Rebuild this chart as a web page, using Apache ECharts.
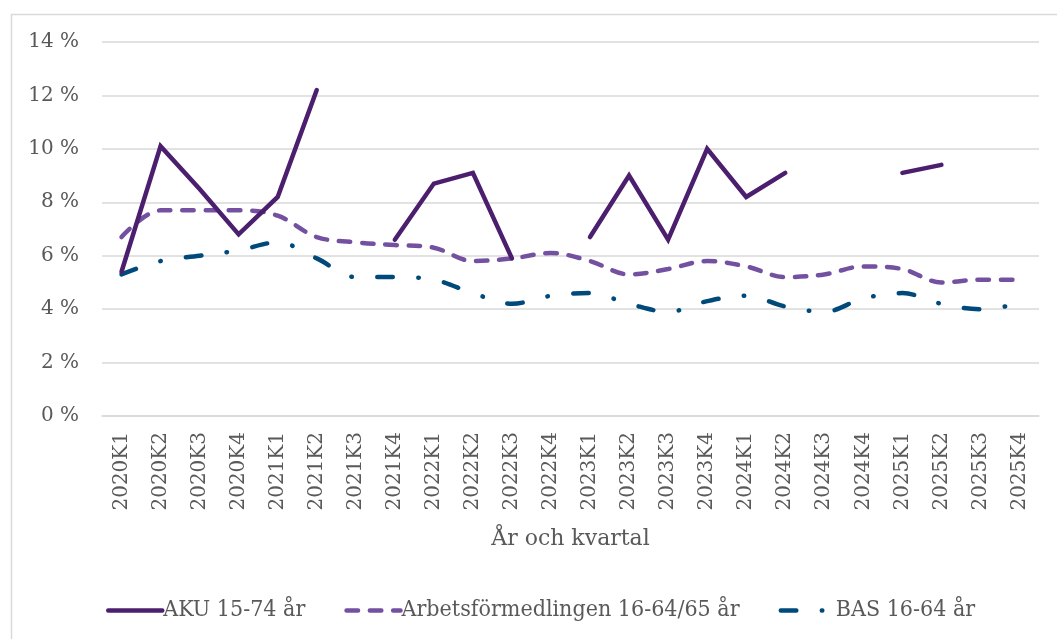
<!DOCTYPE html>
<html>
<head>
<meta charset="utf-8">
<script src="https://cdn.jsdelivr.net/npm/echarts@6/dist/echarts.min.js"></script>
<style>
html,body{margin:0;padding:0;background:#fff;}
#chart{width:1057px;height:639px;}
</style>
</head>
<body>
<div id="chart"></div>
<script>
const categories = ['2020K1','2020K2','2020K3','2020K4','2021K1','2021K2','2021K3','2021K4',
  '2022K1','2022K2','2022K3','2022K4','2023K1','2023K2','2023K3','2023K4',
  '2024K1','2024K2','2024K3','2024K4','2025K1','2025K2','2025K3','2025K4'];
const akuValues = [5.4,10.1,8.5,6.8,8.2,12.2,null,6.6,8.7,9.1,5.9,null,6.7,9.0,6.6,10.0,8.2,9.1,null,null,9.1,9.4,null,null];
const afValues = [6.7,7.7,7.7,7.7,7.5,6.7,6.5,6.4,6.3,5.8,5.9,6.1,5.8,5.3,5.5,5.8,5.6,5.2,5.3,5.6,5.5,5.0,5.1,5.1];
const basValues = [5.3,5.8,6.0,6.2,6.5,5.9,5.2,5.2,5.1,4.6,4.2,4.5,4.6,4.2,3.9,4.3,4.5,4.1,3.9,4.4,4.6,4.2,4.0,4.2];
const seriesNames = ['AKU 15-74 år','Arbetsförmedlingen 16-64/65 år','BAS 16-64 år'];
const yTicks = [0,2,4,6,8,10,12,14];
const axisTitle = 'År och kvartal';

const FONT = 'DejaVu Serif';
const TXT = '#595959';
const chart = echarts.init(document.getElementById('chart'), null, {renderer:'canvas'});
chart.setOption({
  animation: false,
  backgroundColor: '#fff',
  graphic: [{
    type: 'rect', left: 9, top: 12, silent: true, z: -10,
    shape: {width: 1100, height: 700},
    style: {fill: 'none', stroke: '#d9d9d9', lineWidth: 1.5}
  }],
  grid: {left: 102, right: 18, top: 42, bottom: 223, containLabel: false},
  legend: {
    top: 594, left: 101,
    itemWidth: 54, itemHeight: 10, itemGap: 39,
    itemStyle: {opacity: 0},
    lineStyle: {width: 4.5},
    textStyle: {fontFamily: 'DejaVu Serif Condensed', fontSize: 23, color: TXT, padding: [0,0,0,-4]},
    data: seriesNames
  },
  xAxis: {
    type: 'category', data: categories, boundaryGap: true,
    name: axisTitle, nameLocation: 'middle', nameGap: 112,
    nameTextStyle: {fontFamily: FONT, fontSize: 22, color: TXT},
    axisLine: {show: true, lineStyle: {color: '#d9d9d9', width: 1.5}},
    axisTick: {show: false},
    axisLabel: {rotate: 90, margin: 16, fontFamily: FONT, fontSize: 20, color: TXT, interval: 0}
  },
  yAxis: {
    type: 'value', min: 0, max: 14, interval: 2,
    axisLine: {show: false}, axisTick: {show: false},
    splitLine: {lineStyle: {color: '#d9d9d9', width: 1.5}},
    axisLabel: {margin: 23, fontFamily: FONT, fontSize: 20, color: TXT,
      formatter: v => yTicks.includes(v) ? v + ' %' : ''}
  },
  series: [
    {
      name: seriesNames[0], type: 'line', data: akuValues, connectNulls: false,
      symbol: 'none', smooth: false, z: 3,
      lineStyle: {color: '#4B1F6E', width: 4.5, cap: 'round', join: 'miter'},
      itemStyle: {color: '#4B1F6E'}
    },
    {
      name: seriesNames[1], type: 'line', data: afValues,
      symbol: 'none', smooth: 0.35, z: 2,
      lineStyle: {color: '#7451A0', width: 4.5, type: [11.5, 11.8], cap: 'round'},
      itemStyle: {color: '#7451A0'}
    },
    {
      name: seriesNames[2], type: 'line', data: basValues,
      symbol: 'none', smooth: 0.35, z: 2,
      lineStyle: {color: '#00497B', width: 4.5, type: [15.5, 25.5, 0.5, 25.5], cap: 'round'},
      itemStyle: {color: '#00497B'}
    }
  ]
});
</script>
</body>
</html>
